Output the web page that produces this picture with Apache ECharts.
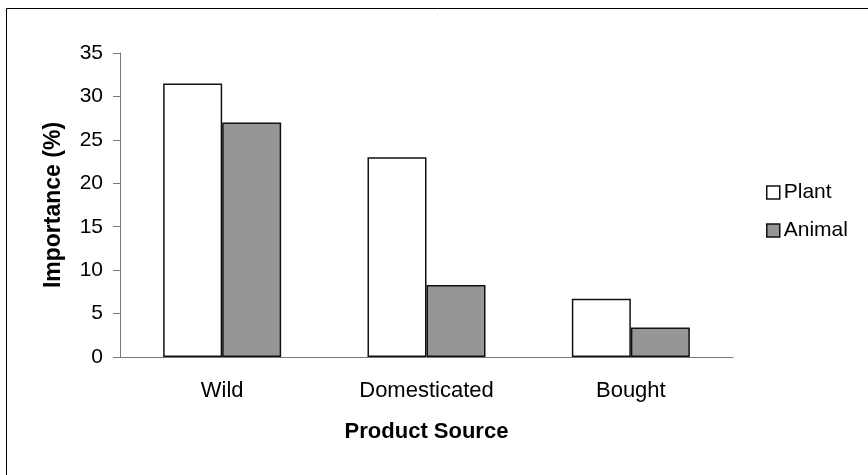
<!DOCTYPE html>
<html>
<head>
<meta charset="utf-8">
<script src="https://cdn.jsdelivr.net/npm/echarts@6/dist/echarts.min.js"></script>
<style>
  html, body { margin: 0; padding: 0; background: #fff; }
  #chart { width: 868px; height: 475px; }
</style>
</head>
<body>
<div id="chart"></div>
<script>
// data
const categories = ['Wild', 'Domesticated', 'Bought']
const plantValues = [31.5, 23, 6.7]
const animalValues = [27, 8.3, 3.4]
const yTicks = { min: 0, max: 35, interval: 5 }

const font = 'Liberation Sans, Arial, sans-serif'
const axisColor = '#777'

const chart = echarts.init(document.getElementById('chart'))

const barSeries = (name, data, fill) => ({
  name,
  type: 'bar',
  data,
  barWidth: 59,
  barGap: '0%',
  itemStyle: {
    color: fill,
    borderColor: '#111',
    borderWidth: 1.5
  }
})

chart.setOption({
  animation: false,
  backgroundColor: '#fff',
  textStyle: { fontFamily: font },
  graphic: [{
    type: 'rect',
    shape: { x: 6.5, y: 8.5, width: 900, height: 500 },
    style: { fill: 'none', stroke: '#000', lineWidth: 1 },
    z: -1
  }],
  grid: { left: 120, right: 135, top: 53, bottom: 118 },
  legend: {
    orient: 'vertical',
    left: 761,
    top: 177,
    itemWidth: 13,
    itemHeight: 13,
    itemGap: 17,
    icon: 'rect',
    textStyle: { fontSize: 21, color: '#000', fontFamily: font, padding: [0, 0, 0, -1] },
    itemStyle: { borderColor: '#111', borderWidth: 1.5 },
    data: ['Plant', 'Animal']
  },
  xAxis: {
    type: 'category',
    data: categories,
    name: 'Product Source',
    nameLocation: 'middle',
    nameGap: 64,
    nameTextStyle: { fontSize: 22, fontWeight: 'bold', color: '#000', verticalAlign: 'top' },
    axisLine: { lineStyle: { color: axisColor, width: 1 } },
    axisTick: { length: 7, lineStyle: { color: axisColor } },
    axisLabel: { fontSize: 22, color: '#000', margin: 23 }
  },
  yAxis: {
    type: 'value',
    min: yTicks.min,
    max: yTicks.max,
    interval: yTicks.interval,
    name: 'Importance (%)',
    nameLocation: 'middle',
    nameGap: 55,
    nameTextStyle: { fontSize: 23, fontWeight: 'bold', color: '#000' },
    splitLine: { show: false },
    axisLine: { show: true, lineStyle: { color: axisColor, width: 1 } },
    axisTick: { show: true, length: 7, lineStyle: { color: axisColor } },
    axisLabel: { fontSize: 21, color: '#000', margin: 17 }
  },
  series: [
    barSeries('Plant', plantValues, '#fff'),
    barSeries('Animal', animalValues, '#969696')
  ]
})
</script>
</body>
</html>
